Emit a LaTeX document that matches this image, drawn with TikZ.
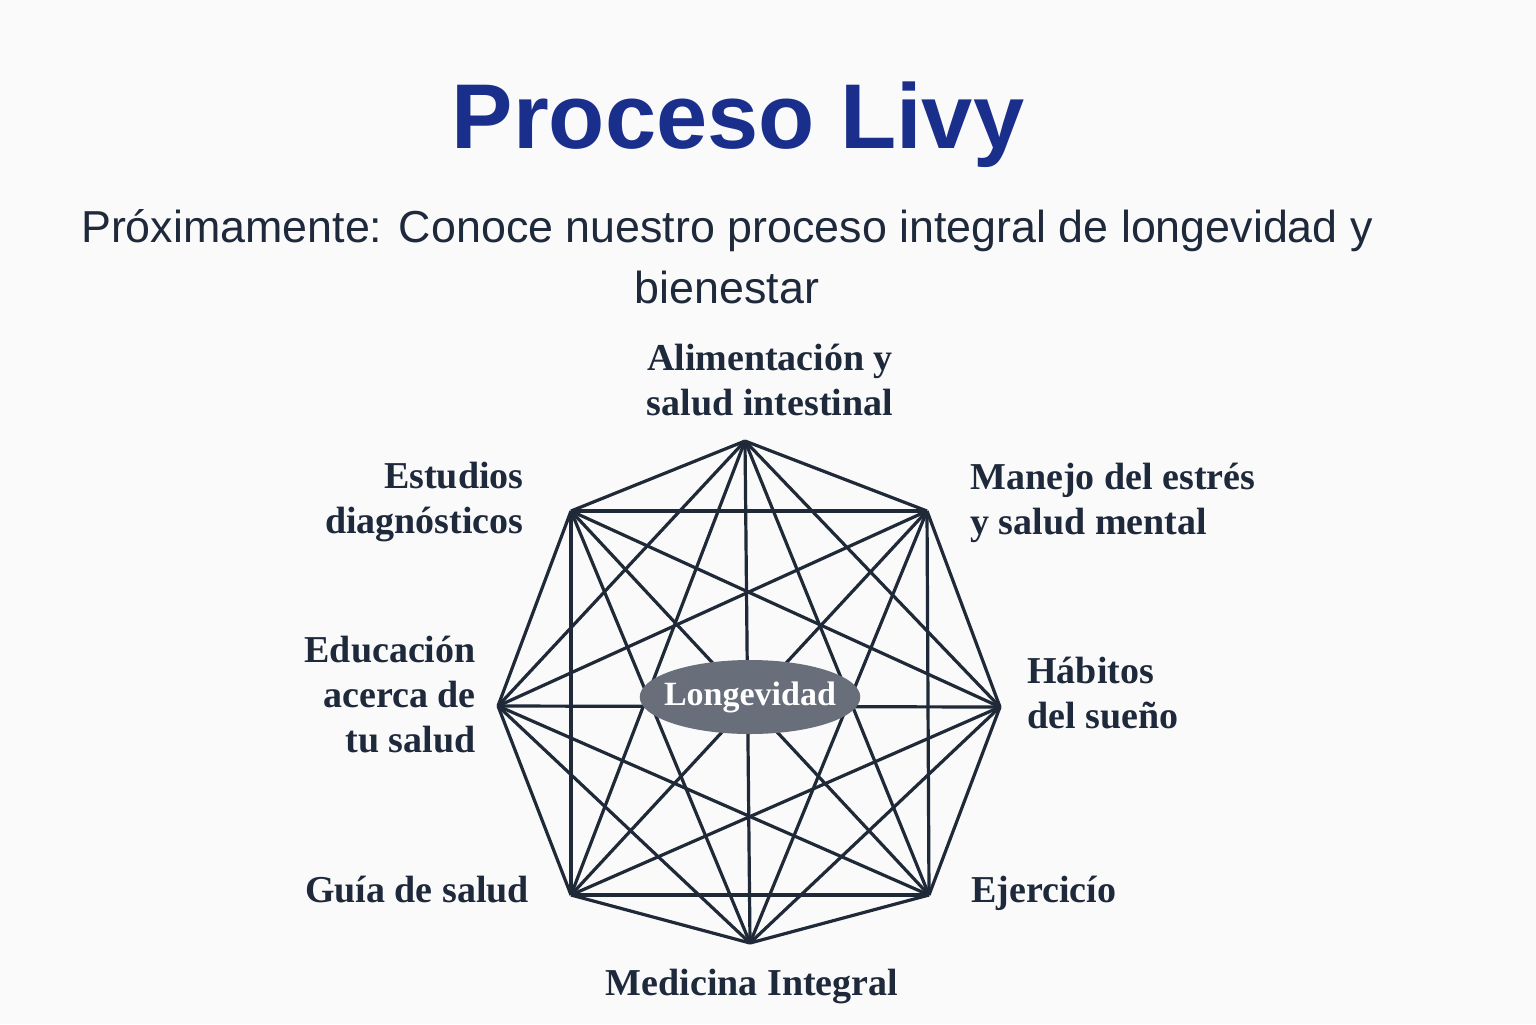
\documentclass[tikz,border=0pt]{standalone}
\usepackage{fontspec}
\setmainfont{Liberation Serif}
\setsansfont{Liberation Sans}
\usetikzlibrary{shapes.geometric}
\definecolor{livyblue}{HTML}{1A2E8C}
\definecolor{livyink}{HTML}{1E293B}
\definecolor{livyline}{HTML}{1F2937}
\definecolor{livyhub}{HTML}{686E7A}
\definecolor{livybg}{HTML}{FAFAFA}
\tikzset{
  ttl/.style={font=\sffamily\bfseries\fontsize{46}{50}\selectfont,text=livyblue,inner sep=0pt},
  subttl/.style={font=\sffamily\fontsize{22.4}{30.5}\selectfont,text=livyink,inner sep=0pt,align=center},
  lbl/.style={font=\bfseries\fontsize{19}{22.5}\selectfont,text=livyink,inner sep=0pt},
  link/.style={draw=livyline,line width=1.6pt,line join=round},
  hub/.style={ellipse,fill=livyhub,text=white,inner xsep=-4pt,inner ysep=0pt,
              minimum height=37pt,font=\bfseries\fontsize{17}{20}\selectfont},
}
\begin{document}
\begin{tikzpicture}[x=0.5pt,y=-0.5pt]
  \fill[livybg] (0,0) rectangle (1536,1024);
  \useasboundingbox (0,0) rectangle (1536,1024);

  \node[ttl,anchor=base] (title) at (738,148) {Proceso Livy};
  \node[subttl,anchor=base] (sub) at (727,303)
    {Próximamente: Conoce nuestro proceso integral de longevidad y\\bienestar};

  % corners of the octagon
  \coordinate (alim) at (745,441);
  \coordinate (estres) at (927,511);
  \coordinate (sueno) at (1000,707);
  \coordinate (ejer) at (929,895);
  \coordinate (medi) at (750,943);
  \coordinate (guia) at (571,895);
  \coordinate (educ) at (498,706);
  \coordinate (estud) at (571,511);

  % every corner joined to every other one
  \foreach \a [count=\i] in {alim,estres,sueno,ejer,medi,guia,educ,estud}{
    \foreach \b [count=\j] in {alim,estres,sueno,ejer,medi,guia,educ,estud}{
      \ifnum\j>\i \draw[link] (\a) -- (\b); \fi
    }
  }

  \node[hub] (longev) at (750,697) {Longevidad};

  % labels (base = last line)
  \node[lbl,anchor=base,align=center] (alimlbl) at (770,415) {Alimentación y\\salud intestinal};
  \node[lbl,anchor=base east,align=right] (estudlbl) at (524,533) {Estudios\\diagnósticos};
  \node[lbl,anchor=base west,align=left] (estreslbl) at (970,534) {Manejo del estrés\\y salud mental};
  \node[lbl,anchor=base east,align=right] (educlbl) at (476,752) {Educación\\acerca de\\tu salud};
  \node[lbl,anchor=base west,align=left] (suenolbl) at (1027,728) {Hábitos\\del sueño};
  \node[lbl,anchor=base] (guialbl) at (417,902) {Guía de salud};
  \node[lbl,anchor=base west] (ejerlbl) at (971,902) {Ejercicío};
  \node[lbl,anchor=base] (medilbl) at (752,995) {Medicina Integral};
\end{tikzpicture}
\end{document}
